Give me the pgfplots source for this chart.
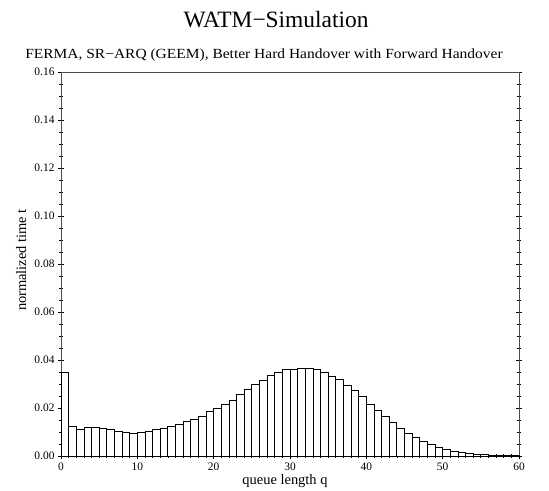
\documentclass[border=0pt]{standalone}
\usepackage{fontspec}
\setmainfont{Liberation Serif}
\newfontfamily\subfont[FakeStretch=1.11]{Liberation Serif}
\usepackage{pgfplots}
\pgfplotsset{compat=1.18}
\begin{document}
\begin{tikzpicture}[x=1bp,y=1bp]
\path[use as bounding box] (0,0) rectangle (549bp,491bp);
\begin{axis}[
  at={(61bp,35bp)}, anchor=south west,
  scale only axis, width=458bp, height=384bp,
  xmin=0, xmax=60, ymin=0, ymax=0.16,
  xtick={0,10,...,60}, ytick={0,0.02,...,0.16},
  minor y tick num=3, minor x tick num=9,
  tick align=center, xtick pos=bottom, ytick pos=both,
  major tick length=6bp, minor tick length=4bp,
  axis line style={gray!60!black, line width=0.7pt},
  every tick/.style={black, line width=0.7pt},
  tick label style={font=\fontsize{11.5}{12}\selectfont},
  /pgf/number format/assume math mode=true,
  yticklabel style={/pgf/number format/.cd, fixed, fixed zerofill, precision=2},
  xticklabel style={/pgf/number format/.cd, fixed, precision=0},
  scaled y ticks=false,
  clip=false,
]
\addplot[ybar interval, fill=white, draw=black, line width=0.8pt] coordinates {
(0,0.0347) (1,0.0125) (2,0.0111) (3,0.0118) (4,0.0120) (5,0.0116) (6,0.0111)
(7,0.0103) (8,0.0097) (9,0.0094) (10,0.0099) (11,0.0104) (12,0.0110) (13,0.0116)
(14,0.0122) (15,0.0133) (16,0.0144) (17,0.0154) (18,0.0167) (19,0.0185)
(20,0.0199) (21,0.0215) (22,0.0232) (23,0.0257) (24,0.0278) (25,0.0300)
(26,0.0317) (27,0.0336) (28,0.0349) (29,0.0360) (30,0.0361) (31,0.0364)
(32,0.0367) (33,0.0361) (34,0.0347) (35,0.0333) (36,0.0319) (37,0.0294)
(38,0.0272) (39,0.0247) (40,0.0217) (41,0.0189) (42,0.0167) (43,0.0142)
(44,0.0117) (45,0.0094) (46,0.0078) (47,0.0061) (48,0.0047) (49,0.0036)
(50,0.0028) (51,0.0021) (52,0.0015) (53,0.0011) (54,0.0008) (55,0.0006)
(56,0.0004) (57,0.0003) (58,0.0002) (59,0.0001) (60,0.0001)
};
\end{axis}
\node[anchor=base, font=\fontsize{23.5}{26}\selectfont] at (276bp,463bp) {WATM−Simulation};
\node[anchor=base, font=\subfont\fontsize{14}{16}\selectfont] at (264bp,432bp) {FERMA, SR−ARQ (GEEM), Better Hard Handover with Forward Handover};
\node[anchor=base, font=\fontsize{14.5}{16}\selectfont] at (285bp,7bp) {queue length q};
\node[anchor=base, rotate=90, font=\fontsize{14.5}{16}\selectfont] at (26bp,231bp) {normalized time t};
\end{tikzpicture}
\end{document}
